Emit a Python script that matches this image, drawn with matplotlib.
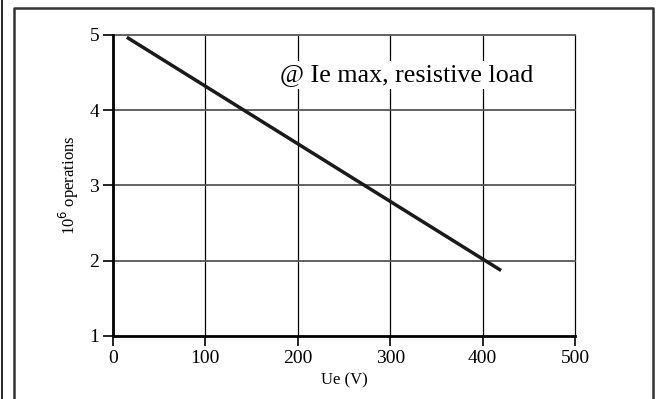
import matplotlib.pyplot as plt
from matplotlib.lines import Line2D

plt.rcParams['font.family'] = ['Liberation Serif', 'DejaVu Serif']

# line endpoints
ue = [15, 420]
ops = [4.97, 1.87]

xticks = [0, 100, 200, 300, 400, 500]
yticks = [1, 2, 3, 4, 5]

fig = plt.figure(figsize=(6.58, 3.99), dpi=100)
ax = fig.add_axes([0.1717, 0.158, 0.7022, 0.7543])

ax.plot(ue, ops, color='#1a1a1a', lw=2.5, solid_capstyle='butt', zorder=3)

ax.set_xlim(0, 500)
ax.set_ylim(1, 5)
ax.set_xticks(xticks)
ax.set_yticks(yticks)
ax.tick_params(axis='both', labelsize=14, length=7, width=1.2, direction='out', color='black')
ax.tick_params(axis='x', pad=3)
ax.tick_params(axis='y', pad=3)

for x in xticks[1:]:
    ax.axvline(x, color='black', lw=0.9, zorder=0, clip_on=False)
for y in yticks[1:]:
    ax.axhline(y, color='#555555', lw=1.3, zorder=0, clip_on=False)

for s in ['top', 'right']:
    ax.spines[s].set_visible(False)
ax.spines['left'].set_linewidth(2)
ax.spines['bottom'].set_linewidth(2)

ax.set_xlabel('Ue (V)', fontsize=12, labelpad=4)
ax.set_ylabel('10$^{6}$ operations', fontsize=12, labelpad=6)

ax.text(181, 4.47, '@ Ie max, resistive load', fontsize=18.7, va='center', ha='left',
        zorder=2, bbox=dict(facecolor='white', edgecolor='none', pad=2))

# surrounding frame
fig.add_artist(Line2D([0.003, 0.003], [0, 1], transform=fig.transFigure, color='black', lw=1.2))
fig.add_artist(Line2D([0.0213, 0.0213, 0.9924, 0.9924], [0, 0.98, 0.98, 0],
                      transform=fig.transFigure, color='#333333', lw=1.8))

fig.savefig('out.png', dpi=100)
